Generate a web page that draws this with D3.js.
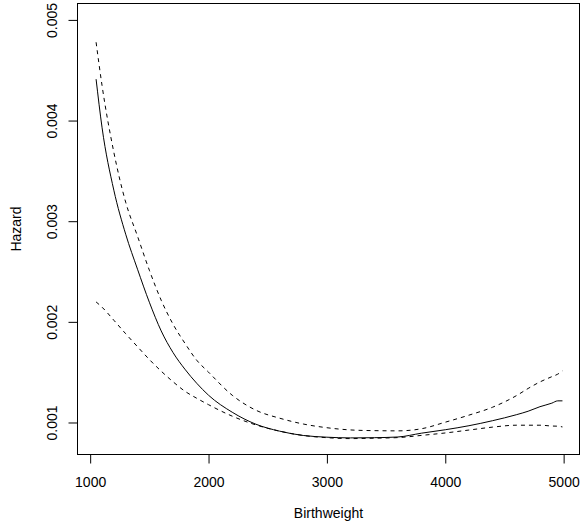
<!DOCTYPE html>
<html>
<head>
<meta charset="utf-8">
<script src="https://cdn.jsdelivr.net/npm/d3@7"></script>
<style>
  body { margin: 0; background: #fff; }
  svg { display: block; }
  text { font-family: "Liberation Sans", Arial, sans-serif; fill: #000; }
</style>
</head>
<body>
<div id="chart"></div>
<script>
// birthweight grid (g) and the three hazard curves
const BIRTHWEIGHT = [1050, 1100, 1200, 1300, 1400, 1500, 1600, 1700, 1800, 1900, 2000,
  2200, 2400, 2600, 2800, 3000, 3200, 3400, 3600, 3800, 4000, 4200, 4400, 4600,
  4700, 4800, 4900, 4950, 4990]
const HAZARD = [0.004411, 0.003934, 0.003308, 0.002871, 0.002523, 0.002195, 0.001910,
  0.001695, 0.001530, 0.001390, 0.001271, 0.001102, 0.000983, 0.000914, 0.000871,
  0.000854, 0.000847, 0.000849, 0.000856, 0.000894, 0.000928, 0.000968, 0.001018,
  0.001077, 0.001112, 0.001157, 0.001192, 0.001215, 0.001215]
const UPPER = [0.004778, 0.004351, 0.003685, 0.003189, 0.002851, 0.002513, 0.002215,
  0.001977, 0.001788, 0.001619, 0.001500, 0.001271, 0.001122, 0.001043, 0.000985,
  0.000948, 0.000926, 0.000919, 0.000917, 0.000938, 0.001003, 0.001073, 0.001152,
  0.001266, 0.001338, 0.001403, 0.001455, 0.001480, 0.001513]
const LOWER = [0.002198, 0.002146, 0.002016, 0.001882, 0.001753, 0.001626, 0.001510,
  0.001405, 0.001311, 0.001241, 0.001177, 0.001063, 0.000976, 0.000914, 0.000871,
  0.000849, 0.000840, 0.000844, 0.000850, 0.000872, 0.000896, 0.000925, 0.000954,
  0.000973, 0.000973, 0.000973, 0.000965, 0.000963, 0.000956]

const X_TICKS = [1000, 2000, 3000, 4000, 5000]
const Y_TICKS = [0.001, 0.002, 0.003, 0.004, 0.005]

const WIDTH = 581
const HEIGHT = 531
const LEFT = 77.5
const RIGHT = 579.5
const TOP = 3.5
const BOTTOM = 454.5

const xScale = d3.scaleLinear()
  .domain([893, 5134])
  .range([LEFT, RIGHT])

const yScale = d3.scaleLinear()
  .domain([0.000682, 0.005163])
  .range([BOTTOM, TOP])

const svg = d3.select("#chart")
  .append("svg")
  .attr("width", WIDTH)
  .attr("height", HEIGHT)

// curves
const line = d3.line()
  .x((d) => xScale(d[0]))
  .y((d) => yScale(d[1]))
  .curve(d3.curveMonotoneX)

const series = [
  { values: HAZARD, dash: null },
  { values: UPPER, dash: "4,4" },
  { values: LOWER, dash: "4,4" }
]

svg.selectAll("path.curve")
  .data(series)
  .enter()
  .append("path")
  .attr("class", "curve")
  .attr("d", (s) => line(BIRTHWEIGHT.map((b, i) => [b, s.values[i]])))
  .attr("fill", "none")
  .attr("stroke", "#000")
  .attr("stroke-width", 1)
  .attr("stroke-dasharray", (s) => s.dash)

// box
svg.append("rect")
  .attr("x", LEFT)
  .attr("y", TOP)
  .attr("width", RIGHT - LEFT)
  .attr("height", BOTTOM - TOP)
  .attr("fill", "none")
  .attr("stroke", "#000")
  .attr("stroke-width", 1)

// axes, R style: ticks outward, labels below / rotated on the left
const xAxis = d3.axisBottom(xScale).tickValues(X_TICKS).tickSize(9)
  .tickFormat(d3.format("d"))
const yAxis = d3.axisLeft(yScale).tickValues(Y_TICKS).tickSize(9)
  .tickFormat(d3.format(".3f"))

const gx = svg.append("g")
  .attr("transform", `translate(0,${BOTTOM})`)
  .call(xAxis)
  .attr("font-family", null)
  .attr("font-size", null)
gx.select(".domain").remove()
gx.selectAll("line").attr("stroke", "#000")
gx.selectAll("text")
  .attr("dy", null)
  .attr("y", 32)
  .style("font-size", "14px")

const gy = svg.append("g")
  .attr("transform", `translate(${LEFT},0)`)
  .call(yAxis)
  .attr("font-family", null)
  .attr("font-size", null)
gy.select(".domain").remove()
gy.selectAll("line").attr("stroke", "#000")
gy.selectAll("text")
  .attr("x", null)
  .attr("dy", null)
  .attr("text-anchor", "middle")
  .attr("transform", "translate(-21,0) rotate(-90)")
  .style("font-size", "14px")

// axis titles
svg.append("text")
  .attr("x", (LEFT + RIGHT) / 2)
  .attr("y", 518)
  .attr("text-anchor", "middle")
  .style("font-size", "14px")
  .text("Birthweight")

svg.append("text")
  .attr("transform", `translate(21,${(TOP + BOTTOM) / 2}) rotate(-90)`)
  .attr("text-anchor", "middle")
  .style("font-size", "14px")
  .text("Hazard")
</script>
</body>
</html>
